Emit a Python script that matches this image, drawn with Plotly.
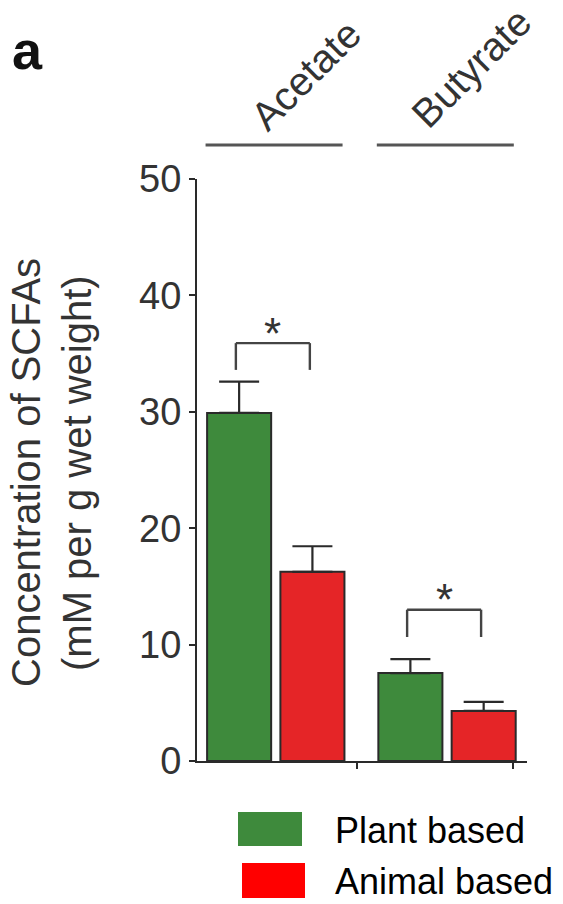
import plotly.graph_objects as go

# ---- data ----
categories = ["Acetate", "Butyrate"]
group_pos = [0, 1]
plant_values = [29.9, 7.55]
plant_err = [2.7, 1.2]
animal_values = [16.25, 4.3]
animal_err = [2.2, 0.78]
series_names = ["Plant based", "Animal based"]
y_ticks = [0, 10, 20, 30, 40, 50]
y_title_lines = ["Concentration of SCFAs", "(mM per g wet weight)"]
sig_labels = ["*", "*"]
sig_top = [35.9, 13.0]
sig_leg = [33.6, 10.65]

GREEN = "#3e8a3c"
RED = "#e52527"
LEG_RED = "#ff0000"
DARK = "#2a2a2a"
FONT = "Liberation Sans, Arial, sans-serif"

W, H = 563, 904
ML, MR, MT, MB = 197, 36, 179, 143
PW = W - ML - MR
PH = H - MT - MB

def px_x(px):
    return (px - ML) / PW

def px_y(py):
    return (H - MB - py) / PH

fig = go.Figure()
for name, vals, errs, col in [(series_names[0], plant_values, plant_err, GREEN),
                              (series_names[1], animal_values, animal_err, RED)]:
    fig.add_trace(go.Bar(
        x=group_pos, y=vals, name=name,
        marker=dict(color=col, line=dict(color=DARK, width=2)),
        error_y=dict(type="data", symmetric=False, array=errs,
                     arrayminus=[0] * len(errs), color=DARK, thickness=2.2, width=20),
        showlegend=False,
    ))

shapes = []
annotations = []
label_dx = [0.175, 0.14]
label_py = [75, 68]
for i, g in enumerate(group_pos):
    # group line + label
    shapes.append(dict(type="line", xref="x", yref="paper",
                       x0=g - 0.41, x1=g + 0.39, y0=px_y(145), y1=px_y(145),
                       line=dict(color="#555555", width=3)))
    annotations.append(dict(text=categories[i], xref="x", yref="paper",
                            x=g + label_dx[i], y=px_y(label_py[i]), textangle=-45,
                            showarrow=False, xanchor="center", yanchor="middle",
                            font=dict(family=FONT, size=40, color="#333333")))
    # significance bracket
    xl, xr = g - 0.233, g + 0.199
    for (x0, y0, x1, y1) in [(xl, sig_leg[i], xl, sig_top[i]),
                             (xl, sig_top[i], xr, sig_top[i]),
                             (xr, sig_top[i], xr, sig_leg[i])]:
        shapes.append(dict(type="line", xref="x", yref="y", x0=x0, y0=y0, x1=x1, y1=y1,
                           line=dict(color="#444444", width=2.4)))
    annotations.append(dict(text=sig_labels[i], xref="x", yref="y", x=g - 0.017, y=sig_top[i],
                            yanchor="middle", showarrow=False, yshift=10,
                            font=dict(family=FONT, size=44, color="#333333")))

# panel letter
annotations.append(dict(text="<b>a</b>", xref="paper", yref="paper",
                        x=px_x(10), y=px_y(50), xanchor="left", yanchor="middle",
                        showarrow=False, font=dict(family=FONT, size=54, color="#111111")))

# y title (two lines, rotated)
for line, cx in zip(y_title_lines, [26, 77]):
    annotations.append(dict(text=line, xref="paper", yref="paper", x=px_x(cx), y=px_y(473),
                            textangle=-90, showarrow=False, xanchor="center", yanchor="middle",
                            font=dict(family=FONT, size=40, color="#333333")))

# legend (manual)
leg_boxes = [(238, 812, 302, 846, GREEN), (242, 863, 305, 898, LEG_RED)]
for (x0, y0, x1, y1, c), name in zip(leg_boxes, series_names):
    shapes.append(dict(type="rect", xref="paper", yref="paper",
                       x0=px_x(x0), x1=px_x(x1), y0=px_y(y1), y1=px_y(y0),
                       fillcolor=c, line=dict(width=0)))
    annotations.append(dict(text=name, xref="paper", yref="paper",
                            x=px_x(333), y=px_y((y0 + y1) / 2 + 1), xanchor="left",
                            yanchor="middle", showarrow=False,
                            font=dict(family=FONT, size=36, color="#000000")))

fig.update_layout(
    width=W, height=H,
    margin=dict(l=ML, r=MR, t=MT, b=MB),
    paper_bgcolor="white", plot_bgcolor="white",
    barmode="group", bargap=0.144, bargroupgap=0.126,
    shapes=shapes, annotations=annotations,
    font=dict(family=FONT, color="#333333"),
)
fig.update_xaxes(range=[-0.46, 1.467], showgrid=False, zeroline=False,
                 showline=True, linecolor=DARK, linewidth=2,
                 tickmode="array", tickvals=[0.474, 1.385], ticks="outside",
                 ticklen=6, tickwidth=2, tickcolor=DARK, showticklabels=False)
fig.update_yaxes(range=[0, 50], showgrid=False, zeroline=False,
                 showline=True, linecolor=DARK, linewidth=2,
                 tickmode="array", tickvals=y_ticks, ticks="outside",
                 ticklen=6, tickwidth=2, tickcolor=DARK,
                 tickfont=dict(family=FONT, size=38, color="#333333"))

fig.write_html("out.html", config={"displayModeBar": False},
               post_script="document.body.style.margin='0';document.body.style.overflow='hidden';")
